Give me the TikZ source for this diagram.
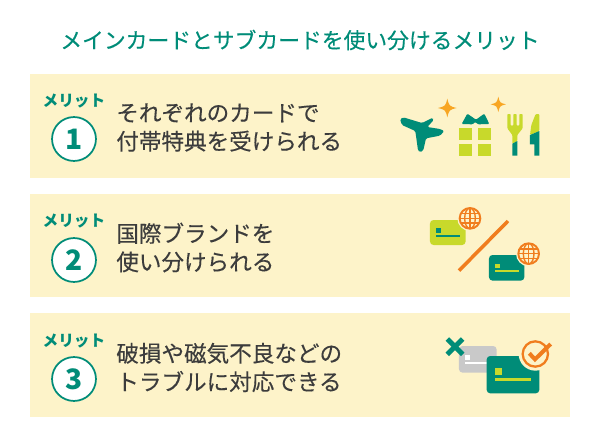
\documentclass[tikz,border=0pt]{standalone}
\usepackage{fontspec}
\usepackage{xcolor}
\setmainfont{Noto Sans CJK JP}
\newfontfamily\jpmed[FakeBold=0.25]{Noto Sans CJK JP}
\usetikzlibrary{positioning,shapes}
\definecolor{cream}{HTML}{FDF3C9}
\definecolor{teal1}{HTML}{008C78}
\definecolor{lime1}{HTML}{C8D92B}
\definecolor{amber1}{HTML}{F8A623}
\definecolor{orange1}{HTML}{F07D1E}
\definecolor{ink}{HTML}{3C3C3C}
\definecolor{gray1}{HTML}{C9C9C9}
\tikzstyle{panel} = [fill=cream, draw=none]
\tikzstyle{title} = [text=teal1, font=\jpmed\fontsize{12.4}{14}\selectfont]
\tikzstyle{tag} = [text=teal1, font=\bfseries\fontsize{8.9}{10}\selectfont, inner sep=0pt]
\tikzstyle{num} = [circle, draw=teal1, line width=1pt, fill=white, text=teal1, minimum size=25pt, inner sep=0pt, font=\bfseries\fontsize{16}{18}\selectfont]
\tikzstyle{body} = [anchor=west, text=ink, align=left, inner sep=0pt, font=\jpmed\fontsize{12.85}{16.2}\selectfont]
\tikzstyle{card} = [rounded corners=2pt, draw=none]
\tikzstyle{slash} = [draw=orange1, line width=2pt]
\newcommand{\sparkle}[3]{% x, y, radius
  \fill[amber1] (#1,#2-#3) .. controls (#1+0.2*#3,#2-0.2*#3) .. (#1+#3,#2)
    .. controls (#1+0.2*#3,#2+0.2*#3) .. (#1,#2+#3)
    .. controls (#1-0.2*#3,#2+0.2*#3) .. (#1-#3,#2)
    .. controls (#1-0.2*#3,#2-0.2*#3) .. (#1,#2-#3) -- cycle;}
\newcommand{\globeicon}[2]{% x, y in zoomed units
  \fill[cream] (#1,#2) circle (38);
  \begin{scope}
    \clip (#1,#2) circle (31);
    \draw[orange1, line width=0.8pt] (#1-31,#2-14) -- (#1+31,#2-14);
    \draw[orange1, line width=0.8pt] (#1-31,#2) -- (#1+31,#2);
    \draw[orange1, line width=0.8pt] (#1-31,#2+14) -- (#1+31,#2+14);
    \draw[orange1, line width=0.8pt] (#1,#2-31) -- (#1,#2+31);
    \draw[orange1, line width=0.8pt] (#1,#2) ellipse (16 and 31);
  \end{scope}
  \draw[orange1, line width=1.1pt] (#1,#2) circle (31);}

\begin{document}
\begin{tikzpicture}[x=0.02cm, y=-0.02cm]
        \useasboundingbox (0,0) rectangle (600,447);
        % Place panels
        \fill[panel] (30,74) rectangle (570,178);
        \fill[panel] (30,194) rectangle (570,297);
        \fill[panel] (30,313) rectangle (570,417);

        % Place nodes
        \node at (300,40) [title] (head) {メインカードとサブカードを使い分けるメリット};
        \node at (74,101) [tag] (tag1) {メリット};
        \node at (74,139) [num] (num1) {1};
        \node at (116,127.5) [body] (text1) {それぞれのカードで\\付帯特典を受けられる};
        \node at (74,221) [tag] (tag2) {メリット};
        \node at (74,260) [num] (num2) {2};
        \node at (116,247.5) [body] (text2) {国際ブランドを\\使い分けられる};
        \node at (74,341) [tag] (tag3) {メリット};
        \node at (74,379) [num] (num3) {3};
        \node at (116,367.5) [body] (text3) {破損や磁気不良などの\\トラブルに対応できる};

        % Plane, gift, cutlery
        \begin{scope}[shift={(390,85)}, scale=1/3]
            \sparkle{172}{69}{28}
            \sparkle{325}{58}{23}
            \fill[teal1, rounded corners=0.8pt] (30,103) -- (40,97) -- (96,114) -- (128,98) -- (131,105) -- (112,126) -- (150,132) -- (163,138) -- (150,152) -- (108,160) -- (100,196) -- (90,202) -- (84,196) -- (76,138) -- (36,120) -- cycle;
            \fill[teal1, rounded corners=0.6pt] (215,117) -- (232,86) -- (258,104) -- (283,86) -- (298,117) -- (264,118) -- (256,111) -- (248,118) -- cycle;
            \fill[lime1] (208,130) rectangle (247,165);
            \fill[lime1] (264,130) rectangle (303,165);
            \fill[lime1] (208,177) rectangle (247,212);
            \fill[lime1] (264,177) rectangle (303,212);
            \fill[lime1, rounded corners=0.5pt] (352,87) -- (362,87) -- (362,122) -- (370,122) -- (370,87) -- (380,87) -- (380,122) -- (388,122) -- (388,87) -- (398,87) -- (398,130) -- (382,150) -- (382,168) -- (367,176) -- (367,150) -- (352,130) -- cycle;
            \fill[teal1] (367,176) -- (382,168) -- (382,212) -- (367,212) -- cycle;
            \fill[lime1, rounded corners=0.6pt] (420,150) -- (424,120) -- (437,87) -- (448,87) -- (448,138) -- cycle;
            \fill[teal1] (420,150) -- (448,138) -- (448,212) -- (433,212) -- (433,178) -- (420,178) -- cycle;
        \end{scope}

        % Two cards
        \begin{scope}[shift={(420,200)}, scale=1/3]
            \fill[card, lime1] (30,60) rectangle (137,135);
            \fill[teal1] (48,84) rectangle (63,99);
            \fill[teal1] (48,105) rectangle (120,110);
            \globeicon{150}{55}
            \coordinate (slashA) at (117,212);
            \coordinate (slashB) at (264,63);
            \path[slash] (slashA) -- (slashB);
            \fill[card, teal1] (207,165) rectangle (313,242);
            \fill[lime1] (225,192) rectangle (240,205);
            \fill[lime1] (225,211) rectangle (297,216);
            \globeicon{326}{161}
        \end{scope}

        % Broken card and new card
        \begin{scope}[shift={(430,330)}, scale=1/3]
            \fill[card, gray1] (87,48) rectangle (200,128);
            \fill[white] (105,75) rectangle (120,90);
            \fill[white] (105,96) rectangle (170,101);
            \coordinate (crossA) at (52,27);
            \coordinate (crossB) at (98,73);
            \coordinate (crossC) at (98,27);
            \coordinate (crossD) at (52,73);
            \draw[teal1, line width=2.8pt] (crossA) -- (crossB);
            \draw[teal1, line width=2.8pt] (crossC) -- (crossD);
            \fill[card, teal1] (170,78) rectangle (328,190);
            \fill[lime1] (196,115) rectangle (216,135);
            \fill[lime1] (196,144) rectangle (302,152);
            \fill[cream] (316,72) circle (50);
            \draw[orange1, line width=1.3pt, fill=cream] (316,72) circle (38);
            \coordinate (tickA) at (298,70);
            \coordinate (tickB) at (315,88);
            \coordinate (tickC) at (362,42);
            \draw[orange1, line width=2.3pt] (tickA) -- (tickB) -- (tickC);
        \end{scope}
    \end{tikzpicture}
\end{document}
